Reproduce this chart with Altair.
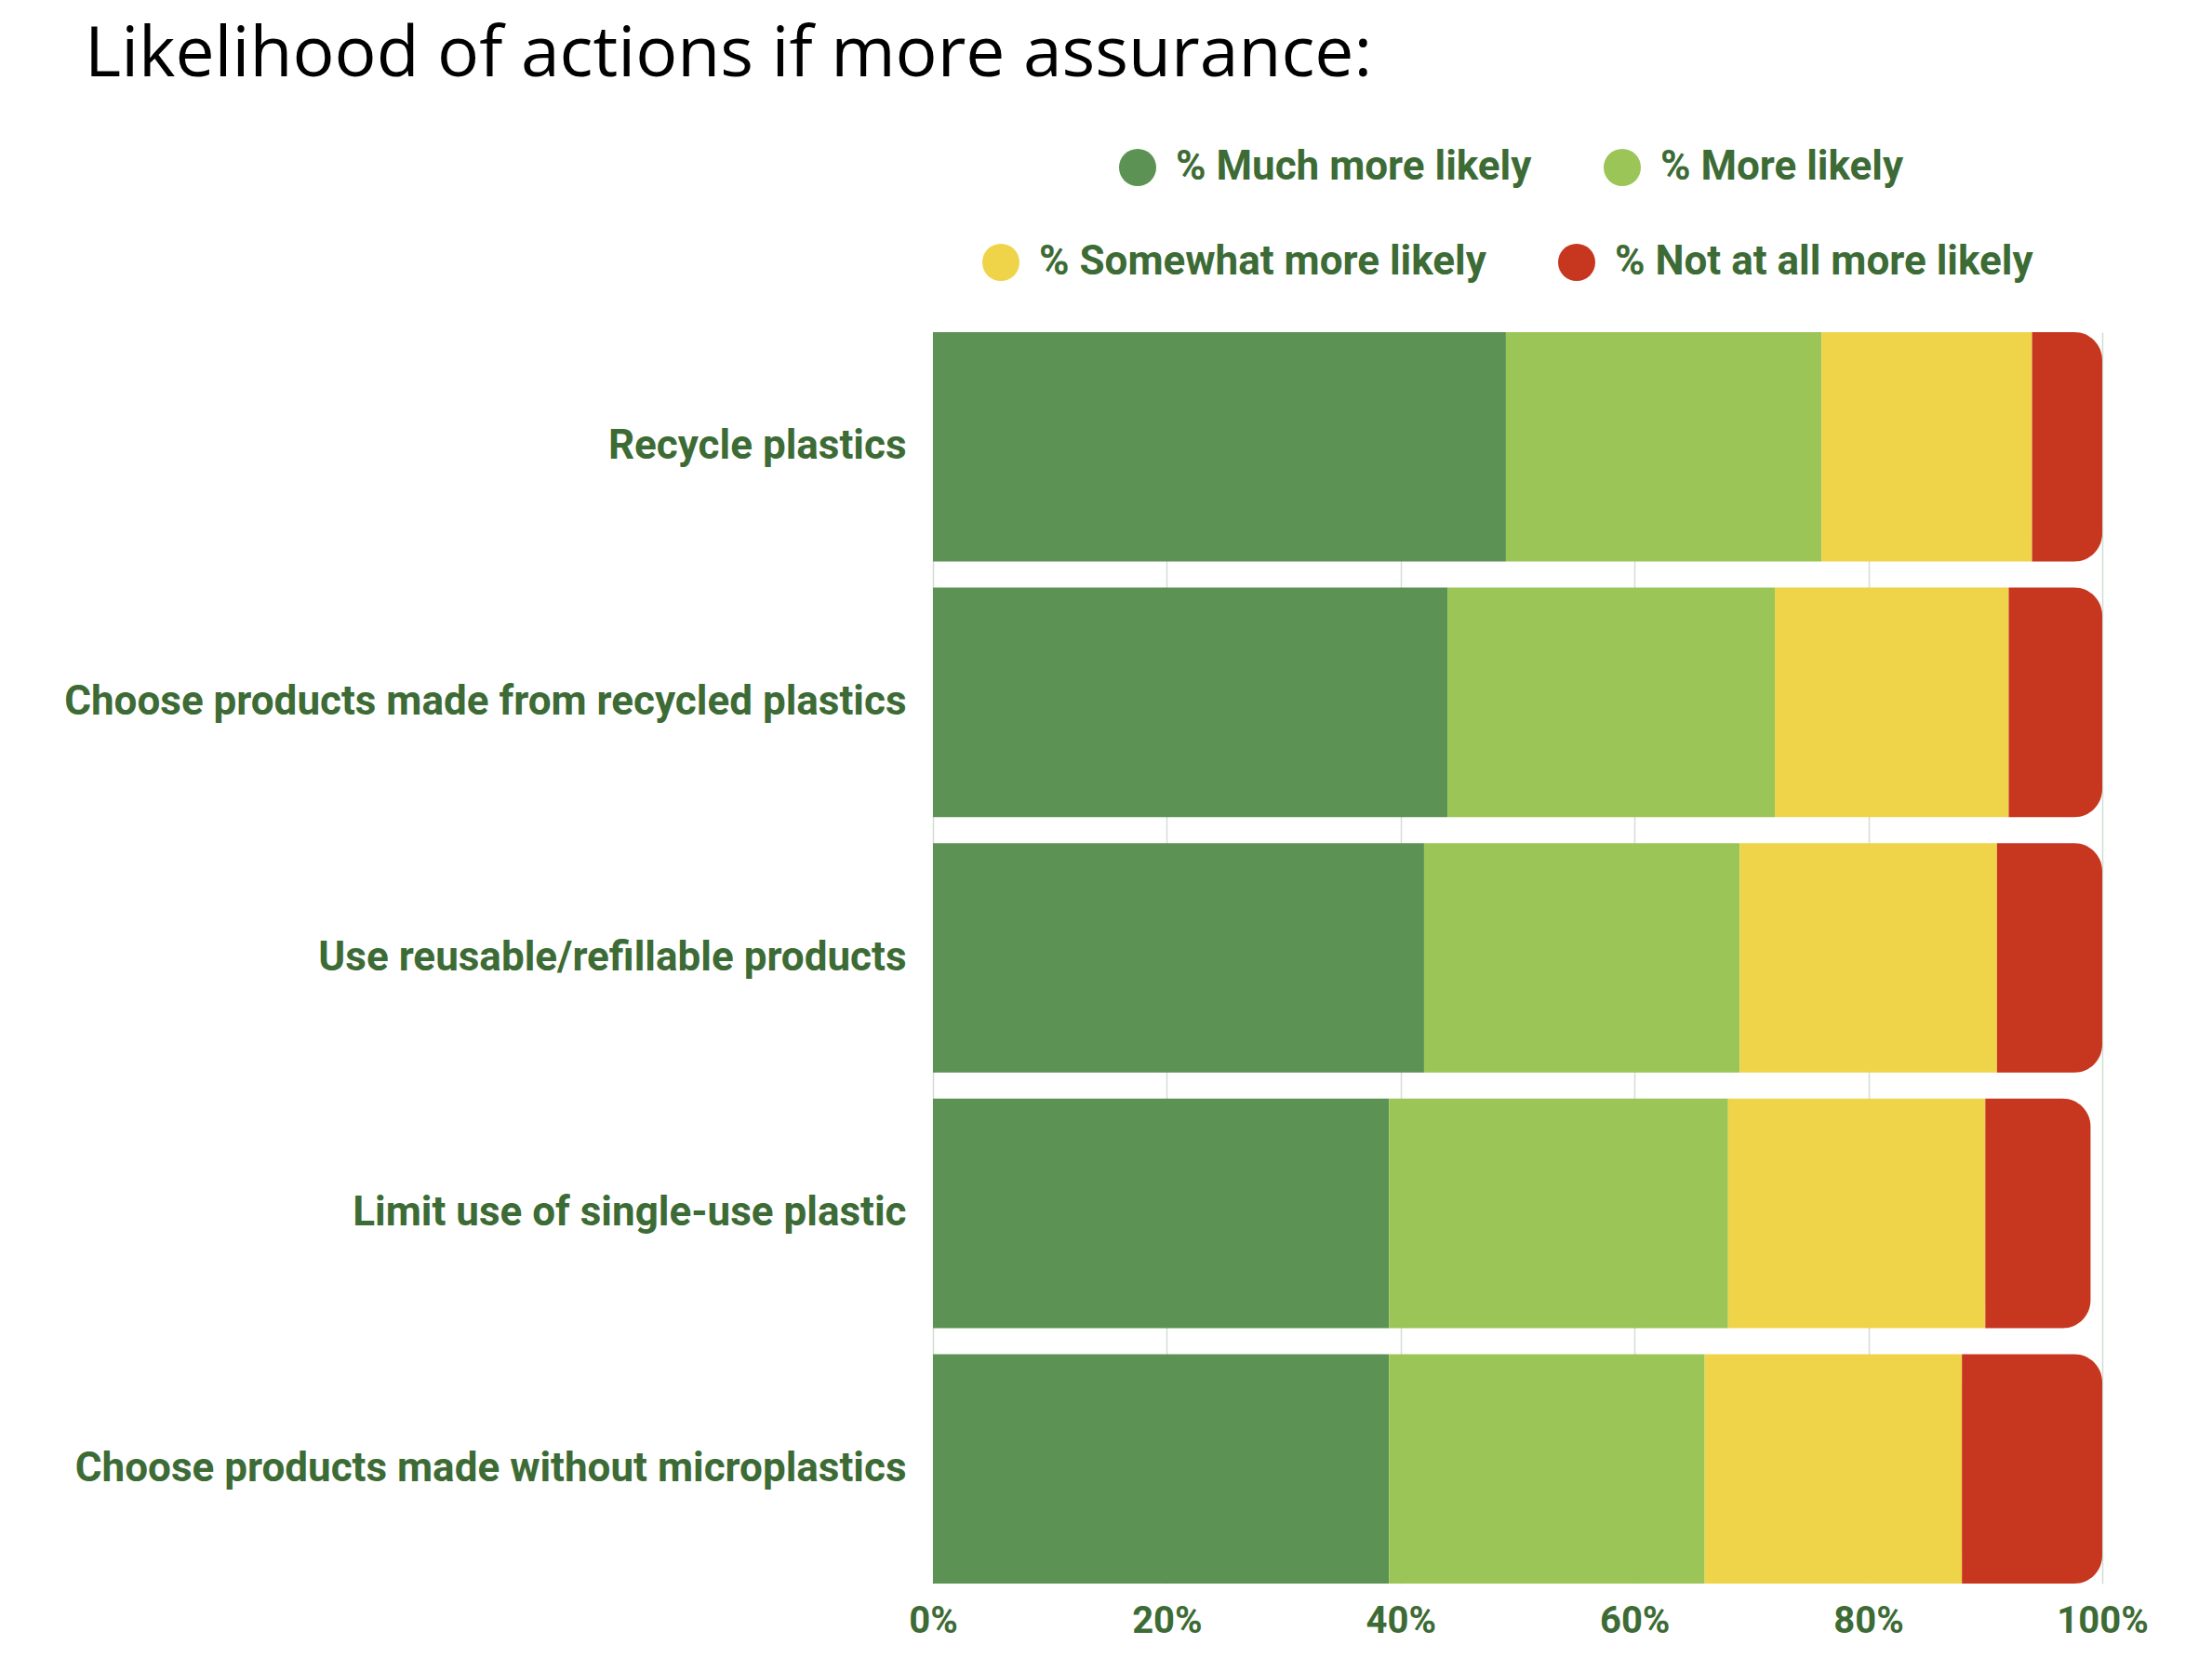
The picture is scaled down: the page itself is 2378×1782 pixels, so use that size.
import altair as alt
import pandas as pd

# Survey answers per action (percent of respondents)
actions = [
    "Recycle plastics",
    "Choose products made from recycled plastics",
    "Use reusable/refillable products",
    "Limit use of single-use plastic",
    "Choose products made without microplastics",
]
responses = [
    "% Much more likely",
    "% More likely",
    "% Somewhat more likely",
    "% Not at all more likely",
]
much_more = [49, 44, 42, 39, 39]
more = [27, 28, 27, 29, 27]
somewhat = [18, 20, 22, 22, 22]
not_at_all = [6, 8, 9, 9, 12]
colors = ["#5c9253", "#9bc556", "#efd449", "#c7361f"]
tick_values = [0, 20, 40, 60, 80, 100]

TEXT = "#3d6b35"
LABEL_FONT = "Roboto"

rows = []
for i, action in enumerate(actions):
    for j, series in enumerate([much_more, more, somewhat, not_at_all]):
        rows.append({"action": action, "response": responses[j], "order": j, "value": series[i]})
df = pd.DataFrame(rows)

base = alt.Chart(df).transform_stack(
    stack="value",
    groupby=["action"],
    as_=["x0", "x1"],
    sort=[alt.SortField("order", order="ascending")],
)

x_enc = alt.X(
    "x0:Q",
    scale=alt.Scale(domain=[0, 100], nice=False),
    axis=alt.Axis(
        values=tick_values,
        labelExpr="datum.value + '%'",
        title=None,
        ticks=False,
        domain=False,
        grid=True,
        gridColor="#d3ddd2",
        gridWidth=1.5,
        labelFont=LABEL_FONT,
        labelFontWeight="bold",
        labelFontSize=40,
        labelColor=TEXT,
        labelPadding=20,
        labelFlush=False,
    ),
)
y_enc = alt.Y(
    "action:N",
    sort=actions,
    scale=alt.Scale(paddingInner=0.102, paddingOuter=0),
    axis=alt.Axis(
        title=None,
        ticks=False,
        domain=False,
        grid=False,
        labelFont=LABEL_FONT,
        labelFontWeight="bold",
        labelFontSize=44,
        labelColor=TEXT,
        labelPadding=29,
        labelLimit=2000,
    ),
)


def legend(x, y):
    return alt.Legend(
        orient="none",
        legendX=x,
        legendY=y,
        direction="horizontal",
        title=None,
        symbolType="circle",
        symbolSize=1600,
        symbolStrokeWidth=0,
        symbolOpacity=1,
        labelFont=LABEL_FONT,
        labelFontWeight="bold",
        labelFontSize=44,
        labelColor=TEXT,
        labelOffset=19,
        labelLimit=1000,
        columnPadding=75,
        padding=0,
    )


# first legend row: the two "likely" greens
greens = (
    base.transform_filter(alt.FieldOneOfPredicate(field="response", oneOf=responses[:2]))
    .mark_bar()
    .encode(
        x=x_enc,
        x2="x1:Q",
        y=y_enc,
        color=alt.Color(
            "response:N",
            scale=alt.Scale(domain=responses[:2], range=colors[:2]),
            legend=legend(198, -199),
        ),
    )
)

fill_enc = alt.Fill(
    "response:N",
    scale=alt.Scale(domain=responses[2:], range=colors[2:]),
    legend=legend(51, -97),
)

yellow = (
    base.transform_filter(alt.FieldEqualPredicate(field="response", equal=responses[2]))
    .mark_bar()
    .encode(x=x_enc, x2="x1:Q", y=y_enc, fill=fill_enc)
)

# last segment gets the rounded end
red = (
    base.transform_filter(alt.FieldEqualPredicate(field="response", equal=responses[3]))
    .mark_bar(cornerRadiusTopRight=30, cornerRadiusBottomRight=30)
    .encode(x=x_enc, x2="x1:Q", y=y_enc, fill=fill_enc)
)

chart = (
    alt.layer(greens, yellow, red)
    .properties(
        width=1257,
        height=1345,
        title=alt.TitleParams(
            text="Likelihood of actions if more assurance:",
            anchor="start",
            frame="group",
            font="Open Sans",
            fontSize=75,
            fontWeight="normal",
            color="#000000",
            dx=-912,
            dy=-56,
        ),
        padding={"left": 1003, "top": 357, "right": 118, "bottom": 80},
        autosize=alt.AutoSizeParams(type="none"),
        background="white",
    )
    .configure_view(stroke=None)
)

chart.save("out.html", embed_options={"renderer": "svg", "actions": False})
